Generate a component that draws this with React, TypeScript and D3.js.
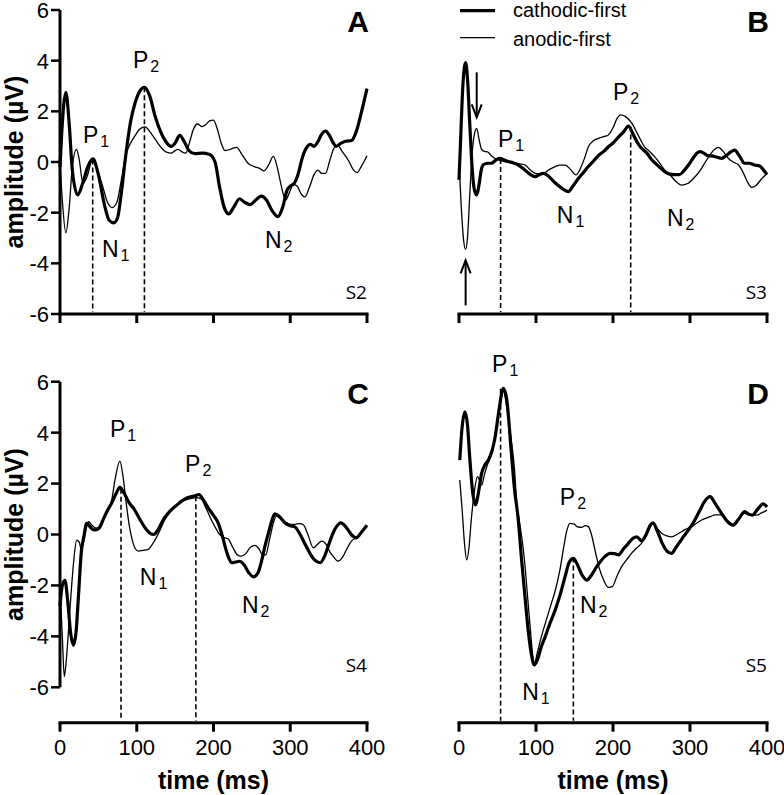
import React from "react";
import * as d3 from "d3";

type Pt = [number, number];

// ---------- data (time ms, amplitude µV) ----------
const panelA_cathodic: Pt[] = [[0,-0.2],[2,1.0],[7.6,2.75],[12,1.5],[16,-0.3],[23,-1.3],[30,-0.8],[36,-0.2],[43,0.12],[50,-0.5],[58,-1.7],[64,-2.3],[70,-2.4],[75,-2.2],[80,-1.2],[85,0.1],[92,1.6],[98,2.35],[104,2.8],[110,2.95],[117,2.6],[124,1.8],[131,1.2],[138,0.8],[145,0.62],[150,0.75],[156,1.05],[162,0.8],[168,0.45],[176,0.33],[185,0.35],[195,0.3],[202,0.0],[208,-1.0],[214,-1.8],[220,-2.05],[226,-1.8],[234,-1.45],[241,-1.6],[248,-1.68],[255,-1.5],[262,-1.35],[269,-1.5],[276,-1.9],[284,-2.16],[290,-1.8],[296,-1.1],[300,-0.95],[305,-0.85],[310,-0.5],[316,0.2],[322,0.6],[326,0.7],[331,0.62],[336,0.8],[341,1.1],[346,1.22],[351,1.05],[356,0.75],[360,0.62],[365,0.72],[372,0.82],[380,0.85],[386,1.2],[393,2.0],[400,2.9]];
const panelA_anodic: Pt[] = [[0,0.0],[3,-1.5],[7.6,-2.8],[12,-1.8],[16,-0.2],[21.5,0.5],[25,0.1],[30,-0.85],[35,-0.6],[42,0.05],[47,-0.2],[55,-0.9],[62,-1.6],[68,-1.8],[74,-1.6],[80,-0.7],[86,0.3],[92,0.75],[98,1.05],[104,1.3],[111,1.39],[117,1.2],[124,0.9],[131,0.6],[138,0.4],[145,0.35],[150,0.45],[154,0.5],[159,0.4],[164,0.35],[169,0.8],[174,1.3],[179,1.5],[185,1.4],[190,1.48],[195,1.62],[200,1.65],[205,1.3],[210,0.75],[215,0.45],[222,0.5],[230,0.58],[237,0.3],[245,-0.05],[253,-0.18],[260,-0.25],[266,-0.35],[272,-0.1],[278,0.22],[283,-0.2],[288,-0.9],[294,-1.5],[299,-1.2],[304,-0.88],[309,-0.95],[314,-1.25],[319,-1.38],[325,-1.0],[331,-0.5],[336,-0.32],[341,-0.45],[346,-0.45],[351,0.0],[357,0.55],[362,0.65],[368,0.4],[376,0.05],[382,-0.3],[387,-0.42],[393,-0.15],[400,0.25]];

const panelB_cathodic: Pt[] = [[0,-0.7],[2,0.8],[5,3.0],[8.6,3.92],[11,3.3],[14,1.5],[17,-0.2],[20,-1.1],[23,-1.3],[26,-0.9],[29,-0.3],[32,-0.1],[37,-0.05],[42,-0.05],[48,0.08],[53,0.14],[59,0.08],[64,0.02],[70,-0.03],[77,-0.12],[83,-0.25],[88,-0.38],[94,-0.52],[99,-0.58],[104,-0.5],[110,-0.45],[116,-0.55],[124,-0.8],[132,-1.0],[138,-1.12],[142,-1.17],[148,-0.95],[155,-0.65],[162,-0.4],[168,-0.18],[175,0.05],[181,0.25],[188,0.42],[194,0.6],[200,0.75],[207,0.98],[214,1.2],[220,1.42],[226,1.1],[232,0.75],[237,0.54],[244,0.35],[250,0.1],[255,-0.05],[262,-0.25],[268,-0.4],[274,-0.48],[280,-0.5],[286,-0.5],[292,-0.35],[298,-0.12],[304,0.15],[309,0.35],[313,0.41],[318,0.35],[323,0.25],[328,0.24],[334,0.2],[341,0.14],[347,0.25],[353,0.4],[358,0.47],[364,0.25],[371,-0.05],[377,-0.05],[384,-0.12],[390,-0.15],[395,-0.3],[400,-0.5]];
const panelB_anodic: Pt[] = [[0,0.0],[3,-1.8],[6,-3.1],[8.6,-3.45],[11,-3.0],[14,-1.3],[17,0.3],[20,1.1],[23,1.33],[26,0.9],[29.4,0.5],[33,0.42],[37,0.4],[42,0.25],[47,0.14],[53,0.06],[60,0.01],[66,-0.02],[73,-0.05],[80,-0.08],[86,-0.12],[92,-0.3],[99,-0.45],[104,-0.47],[110,-0.45],[117,-0.3],[125,-0.18],[131,-0.12],[138,-0.12],[145,-0.3],[152,-0.51],[157,-0.3],[163,0.15],[168,0.6],[175,0.85],[181,0.93],[188,1.0],[194,1.07],[200,1.35],[205,1.7],[210,1.86],[216,1.8],[224,1.55],[232,1.1],[241,0.6],[248,0.4],[254,0.21],[262,-0.1],[268,-0.35],[274,-0.5],[281,-0.75],[289,-0.91],[297,-0.85],[306,-0.6],[314,-0.3],[320,0.0],[326,0.28],[332,0.5],[337,0.58],[343,0.42],[350,0.14],[356,0.0],[363,-0.12],[368,-0.35],[374,-0.75],[380,-1.0],[386,-0.92],[392,-0.7],[400,-0.45]];

const panelC_cathodic: Pt[] = [[0,-2.8],[3,-2.0],[6.5,-1.8],[10,-2.6],[14,-3.9],[17.4,-4.34],[21,-3.8],[24,-2.44],[28,-0.61],[31,-0.1],[34.7,0.44],[38,0.35],[41,0.24],[46,0.18],[51,0.25],[56,0.57],[62,0.95],[67,1.22],[73,1.6],[78,1.85],[84,1.6],[90,1.25],[97,0.98],[104,0.6],[110,0.3],[116,0.08],[122,0.0],[128,0.2],[134,0.55],[140,0.8],[146,1.0],[152,1.15],[158,1.3],[164,1.42],[170,1.48],[176,1.52],[181,1.57],[187,1.35],[193,1.05],[200,0.75],[206,0.46],[211,0.0],[215,-0.46],[219,-0.85],[224,-1.11],[229,-1.08],[234,-1.05],[240,-1.2],[246,-1.5],[252,-1.66],[258,-1.5],[263,-1.0],[267,-0.46],[272,0.1],[276,0.55],[280,0.81],[286,0.7],[293,0.46],[299,0.35],[306,0.3],[312,0.05],[318,-0.3],[323,-0.59],[329,-0.9],[334,-1.05],[339,-1.11],[344,-0.9],[349,-0.5],[354,-0.07],[360,0.3],[366,0.46],[371,0.35],[376,0.15],[381,-0.05],[386,-0.13],[393,0.1],[400,0.36]];
const panelC_anodic: Pt[] = [[0,-2.0],[3,-4.0],[5.6,-5.58],[8,-5.0],[11,-3.8],[14,-2.5],[18,-1.0],[21.7,-0.22],[25,-0.3],[28,-0.6],[32,-0.1],[37,0.5],[42,0.35],[47,0.25],[52,0.3],[57,0.6],[62,0.95],[67,1.3],[72,2.2],[78,2.88],[82,2.3],[86,1.3],[90,0.4],[94,-0.2],[98,-0.55],[102,-0.65],[108,-0.62],[115,-0.58],[120,-0.4],[125,-0.15],[130,0.15],[136,0.55],[142,0.85],[148,1.05],[154,1.2],[160,1.32],[166,1.38],[172,1.42],[178,1.45],[184,1.4],[190,1.05],[196,0.65],[202,0.3],[208,0.0],[214,-0.12],[219,-0.17],[225,-0.5],[231,-0.8],[236,-0.85],[242,-0.75],[248,-0.5],[254,-0.43],[259,-0.55],[264,-0.8],[268,-0.8],[273,-0.2],[278,0.45],[282,0.72],[288,0.62],[294,0.48],[300,0.4],[306,0.4],[312,0.43],[317,0.38],[323,0.0],[330,-0.52],[335,-0.4],[341,-0.26],[347,-0.4],[352,-0.7],[357,-0.9],[362,-1.05],[368,-0.9],[374,-0.55],[380,-0.25],[386,-0.13],[393,0.1],[400,0.33]];

const panelD_cathodic: Pt[] = [[1,2.92],[4,4.2],[7.8,4.82],[11,4.3],[14,3.0],[18,1.6],[21.6,1.16],[25,1.6],[29.4,2.4],[34,2.75],[38,2.92],[43,3.3],[47,3.84],[52,4.9],[57.6,5.74],[62,5.3],[68,3.2],[72,1.8],[77,0.57],[81,-0.9],[85.7,-2.44],[90,-3.8],[94,-4.7],[97.8,-5.12],[102,-4.9],[107,-4.4],[112,-4.01],[118,-3.5],[125,-2.96],[131,-2.4],[137.7,-1.66],[143,-1.1],[148.5,-0.94],[154,-1.2],[160,-1.6],[166,-1.79],[172,-1.6],[178,-1.3],[184,-1.05],[190,-0.85],[196,-0.74],[202,-0.75],[207,-0.8],[214,-0.55],[220,-0.35],[226,-0.15],[231,-0.09],[237,-0.25],[243,0.0],[248,0.35],[252,0.46],[258,0.1],[264,-0.35],[270,-0.65],[276,-0.74],[282,-0.5],[290,-0.15],[298,0.18],[305,0.5],[312,0.9],[319,1.3],[326,1.49],[333,1.2],[341,0.83],[349,0.5],[356,0.37],[363,0.6],[371,0.9],[376,0.8],[381,0.76],[388,1.0],[395,1.2],[400,1.08]];
const panelD_anodic: Pt[] = [[1,2.14],[4,1.0],[7,-0.3],[10,-1.0],[13,-0.5],[16,0.6],[18.6,1.35],[21,1.9],[24,2.27],[27,2.1],[29.4,1.94],[33,2.35],[36,2.66],[42.4,3.19],[47,3.9],[51,4.76],[57.6,5.67],[62,5.0],[68.4,3.58],[72,2.6],[75,1.22],[78,0.6],[81.4,-0.09],[85,-1.0],[88,-2.05],[92,-3.5],[97.8,-5.06],[102,-4.6],[107,-4.01],[113,-3.4],[120,-2.7],[125,-2.2],[131,-1.4],[136,-0.5],[140,0.15],[144,0.44],[149,0.42],[154,0.3],[159,0.28],[164,0.35],[168,0.31],[172,0.0],[176.6,-0.61],[182,-1.3],[188,-1.8],[194,-2.08],[199,-2.05],[205,-1.65],[211,-1.27],[218,-0.98],[224,-0.74],[230,-0.55],[237,-0.35],[244,0.0],[252,0.44],[257,0.25],[263,0.05],[270,-0.05],[276,-0.09],[284,0.02],[293,0.18],[304,0.35],[315,0.57],[326,0.7],[333,0.77],[341,0.77],[349,0.5],[356,0.37],[363,0.6],[371,0.83],[378,0.8],[386,0.76],[393,0.85],[400,0.96]];

const yTicks = [6, 4, 2, 0, -2, -4, -6];
const xTicks = [0, 100, 200, 300, 400];
const seriesNames = ["cathodic-first", "anodic-first"];

// peak markers: [time, amplitude]
const peaksA: Pt[] = [[42.6, 0.1], [110, 2.95]];
const peaksB: Pt[] = [[54, 0.12], [223, 1.4]];
const peaksC: Pt[] = [[79.5, 1.8], [177, 1.5]];
const peaksD: Pt[] = [[54, 5.72], [148.5, -0.9]];

// component labels: [name, subscript, time, amplitude]
type Lab = [string, string, number, number];
const labelsA: Lab[] = [["P","1",30,0.75],["P","2",95,3.71],["N","1",54.7,-3.75],["N","2",267,-3.4]];
const labelsB: Lab[] = [["P","1",50.6,0.59],["P","2",200,2.45],["N","1",127,-2.41],["N","2",270,-2.53]];
const labelsC: Lab[] = [["P","1",65,3.83],["P","2",163,2.45],["N","1",104,-1.98],["N","2",237,-3.08]];
const labelsD: Lab[] = [["P","1",43,6.38],["P","2",131,1.16],["N","1",82,-6.5],["N","2",157,-3.08]];

// arrows in B: [time, amplitude, direction (1 down, -1 up)]
const arrowsB: [number, number, number][] = [[23, 1.33, 1], [8.6, -3.45, -1]];

interface Panel {
  letter: string; subj: string;
  x0: number; x1: number; yTop: number; yBot: number; axisY: number;
  showY: boolean; showXLabels: boolean;
  cath: Pt[]; anod: Pt[]; peaks: Pt[]; labels: Lab[];
}

const panels: Panel[] = [
  { letter: "A", subj: "S2", x0: 60, x1: 367, yTop: 10, yBot: 314, axisY: 314, showY: true, showXLabels: false, cath: panelA_cathodic, anod: panelA_anodic, peaks: peaksA, labels: labelsA },
  { letter: "B", subj: "S3", x0: 459, x1: 767, yTop: 10, yBot: 314, axisY: 314, showY: false, showXLabels: false, cath: panelB_cathodic, anod: panelB_anodic, peaks: peaksB, labels: labelsB },
  { letter: "C", subj: "S4", x0: 60, x1: 367, yTop: 381.7, yBot: 687.3, axisY: 722.7, showY: true, showXLabels: true, cath: panelC_cathodic, anod: panelC_anodic, peaks: peaksC, labels: labelsC },
  { letter: "D", subj: "S5", x0: 459, x1: 767, yTop: 381.7, yBot: 687.3, axisY: 722.7, showY: false, showXLabels: true, cath: panelD_cathodic, anod: panelD_anodic, peaks: peaksD, labels: labelsD },
];

const SANS = "'Liberation Sans', Arial, Helvetica, sans-serif";

function PanelView({ p }: { p: Panel }) {
  const x = d3.scaleLinear().domain([0, 400]).range([p.x0, p.x1]);
  const y = d3.scaleLinear().domain([-6, 6]).range([p.yBot, p.yTop]);
  const line = d3.line<Pt>().x(d => x(d[0])).y(d => y(d[1])).curve(d3.curveMonotoneX);
  return (
    <g>
      {/* y axis */}
      {p.showY && (
        <g>
          <line x1={p.x0} x2={p.x0} y1={y(6)} y2={y(-6)} stroke="#000" strokeWidth={3} />
          {yTicks.map(t => (
            <g key={t}>
              <line x1={p.x0 - 9} x2={p.x0} y1={y(t)} y2={y(t)} stroke="#000" strokeWidth={2.5} />
              <text x={p.x0 - 11} y={y(t)} dy="0.36em" textAnchor="end" fontFamily={SANS} fontSize={22}>{t}</text>
            </g>
          ))}
          <text transform={`translate(23,${y(0)}) rotate(-90)`} textAnchor="middle" fontFamily={SANS} fontWeight="bold" fontSize={25}>amplitude (µV)</text>
        </g>
      )}
      {/* x axis */}
      <line x1={x(0) - 1.5} x2={x(400) + 1.5} y1={p.axisY} y2={p.axisY} stroke="#000" strokeWidth={3} />
      {xTicks.map(t => (
        <g key={t}>
          <line x1={x(t)} x2={x(t)} y1={p.axisY} y2={p.axisY + 9} stroke="#000" strokeWidth={3} />
          {p.showXLabels && (
            <text x={x(t)} y={p.axisY + 32} textAnchor="middle" fontFamily={SANS} fontSize={22}>{t}</text>
          )}
        </g>
      ))}
      {p.showXLabels && (
        <text x={x(200)} y={789} textAnchor="middle" fontFamily={SANS} fontWeight="bold" fontSize={25}>time (ms)</text>
      )}
      {/* dashed peak markers */}
      {p.peaks.map((pk, i) => (
        <line key={i} x1={x(pk[0])} x2={x(pk[0])} y1={y(pk[1])} y2={p.axisY - 2} stroke="#000" strokeWidth={1.6} strokeDasharray="5,3" />
      ))}
      {/* waveforms */}
      <path d={line(p.anod) || ""} fill="none" stroke="#000" strokeWidth={1.3} />
      <path d={line(p.cath) || ""} fill="none" stroke="#000" strokeWidth={3.2} strokeLinejoin="round" />
      {/* component labels */}
      {p.labels.map((l, i) => (
        <text key={i} x={x(l[2])} y={y(l[3])} fontFamily={SANS} fontSize={23}>
          {l[0]}<tspan fontSize={16} dx={2} dy={4}>{l[1]}</tspan>
        </text>
      ))}
      {/* panel letter and subject */}
      <text x={p.x1 + 2} y={p.yTop + 22} textAnchor="end" fontFamily={SANS} fontWeight="bold" fontSize={30}>{p.letter}</text>
      <text x={p.x1} y={p.yBot - 15} textAnchor="end" fontFamily="'Open Sans', 'DejaVu Sans', sans-serif" fontSize={19}>{p.subj}</text>
    </g>
  );
}

export default function App() {
  const pB = panels[1];
  const xB = d3.scaleLinear().domain([0, 400]).range([pB.x0, pB.x1]);
  const yB = d3.scaleLinear().domain([-6, 6]).range([pB.yBot, pB.yTop]);
  return (
    <svg width={784} height={795} style={{ position: "absolute", left: 0, top: 0, background: "#fff" }}>
      <rect width={784} height={795} fill="#fff" />
      {panels.map(p => <PanelView key={p.letter} p={p} />)}
      {/* arrows in panel B */}
      {arrowsB.map((a, i) => {
        const ax = xB(a[0]);
        const tip = yB(a[1]) - a[2] * 11;
        const tail = tip - a[2] * 45;
        const hb = tip - a[2] * 13;
        return (
          <g key={i} stroke="#000" strokeWidth={2} fill="none">
            <line x1={ax} x2={ax} y1={tail} y2={tip} />
            <path d={`M${ax - 5},${hb} L${ax},${tip} L${ax + 5},${hb}`} />
          </g>
        );
      })}
      {/* legend */}
      <g fontFamily={SANS} fontSize={20}>
        <line x1={460} x2={495} y1={10.7} y2={10.7} stroke="#000" strokeWidth={3.2} />
        <text x={513} y={17}>{seriesNames[0]}</text>
        <line x1={460} x2={495} y1={37.7} y2={37.7} stroke="#000" strokeWidth={1.3} />
        <text x={513} y={46}>{seriesNames[1]}</text>
      </g>
    </svg>
  );
}
